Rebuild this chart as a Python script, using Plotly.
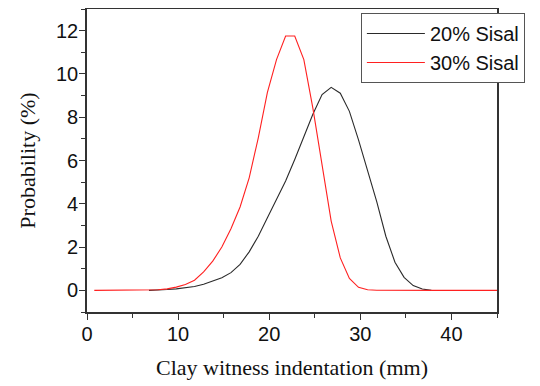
import plotly.graph_objects as go

# 20% Sisal
x_20 = [6.8, 7.8, 8.8, 9.8, 10.8, 11.8, 12.8, 13.8, 14.8, 15.8, 16.8, 17.8, 18.8, 19.8,
        20.8, 21.8, 22.8, 23.8, 24.8, 25.8, 26.8, 27.8, 28.8, 29.8, 30.8, 31.8, 32.8,
        33.8, 34.8, 35.8, 36.8, 37.8]
y_20 = [0.0, 0.01, 0.04, 0.07, 0.12, 0.18, 0.28, 0.42, 0.58, 0.82, 1.2, 1.78, 2.5, 3.35,
        4.2, 5.05, 6.05, 7.1, 8.15, 9.05, 9.38, 9.11, 8.27, 6.95, 5.55, 4.1, 2.5,
        1.3, 0.6, 0.22, 0.06, 0.0]

# 30% Sisal
x_30 = [0.8, 1.8, 2.8, 3.8, 4.8, 5.8, 6.8, 7.8, 8.8, 9.8, 10.8, 11.8, 12.8, 13.8, 14.8,
        15.8, 16.8, 17.8, 18.8, 19.8, 20.8, 21.8, 22.8, 23.8, 24.8, 25.8, 26.8, 27.8,
        28.8, 29.8, 30.8, 31.8, 32.8, 33.8, 34.8, 35.8, 36.8, 37.8, 38.8, 39.8, 40.8,
        41.8, 42.8, 43.8, 45.0]
y_30 = [0, 0, 0, 0, 0, 0, 0.01, 0.03, 0.07, 0.15, 0.27, 0.47, 0.85, 1.35, 2.0,
        2.85, 3.85, 5.2, 7.05, 9.15, 10.66, 11.75, 11.75, 10.66, 8.4, 5.9, 3.2, 1.5,
        0.55, 0.14, 0.03, 0.005, 0, 0, 0, 0, 0, 0, 0, 0, 0,
        0, 0, 0, 0]

x_ticks = [0, 10, 20, 30, 40]
y_ticks = [0, 2, 4, 6, 8, 10, 12]

fig = go.Figure()
fig.add_trace(go.Scatter(x=x_20, y=y_20, mode="lines", name="20% Sisal",
                         line=dict(color="#2a2a2a", width=1.1)))
fig.add_trace(go.Scatter(x=x_30, y=y_30, mode="lines", name="30% Sisal",
                         line=dict(color="#FF2020", width=1.1)))

axis_common = dict(
    showline=True, linecolor="#333333", linewidth=1.6, mirror=True,
    ticks="outside", ticklen=6, tickwidth=1.4, tickcolor="#333333",
    showgrid=False, zeroline=False, automargin=False,
    tickfont=dict(family="Liberation Sans, Arial", size=20, color="#111111"),
)

fig.update_xaxes(range=[0, 45], tickvals=x_ticks, ticklabelstandoff=-3,
                 minor=dict(dtick=5, ticks="outside", ticklen=4, tickwidth=1.4, tickcolor="#333333"),
                 title=dict(text="Clay witness indentation (mm)",
                            font=dict(family="Liberation Serif, Times New Roman", size=22, color="#111111"),
                            standoff=16),
                 **axis_common)
fig.update_yaxes(range=[-1, 13], tickvals=y_ticks, ticklabelstandoff=-3,
                 minor=dict(dtick=1, ticks="outside", ticklen=4, tickwidth=1.4, tickcolor="#333333"),
                 title=dict(text="Probability (%)",
                            font=dict(family="Liberation Serif, Times New Roman", size=22, color="#111111"),
                            standoff=14),
                 **axis_common)

# the page body adds an 8px offset, so the figure is sized 532x378
fig.update_layout(
    width=532, height=378,
    margin=dict(l=79, r=43, t=1, b=74),
    paper_bgcolor="white", plot_bgcolor="white",
    legend=dict(x=0.668, y=0.987, xanchor="left", yanchor="top",
                bordercolor="#555555", borderwidth=1, bgcolor="white",
                font=dict(family="Liberation Sans, Arial", size=20, color="#111111"),
                itemwidth=58, tracegroupgap=0),
    showlegend=True,
)

fig.write_html("out.html")
